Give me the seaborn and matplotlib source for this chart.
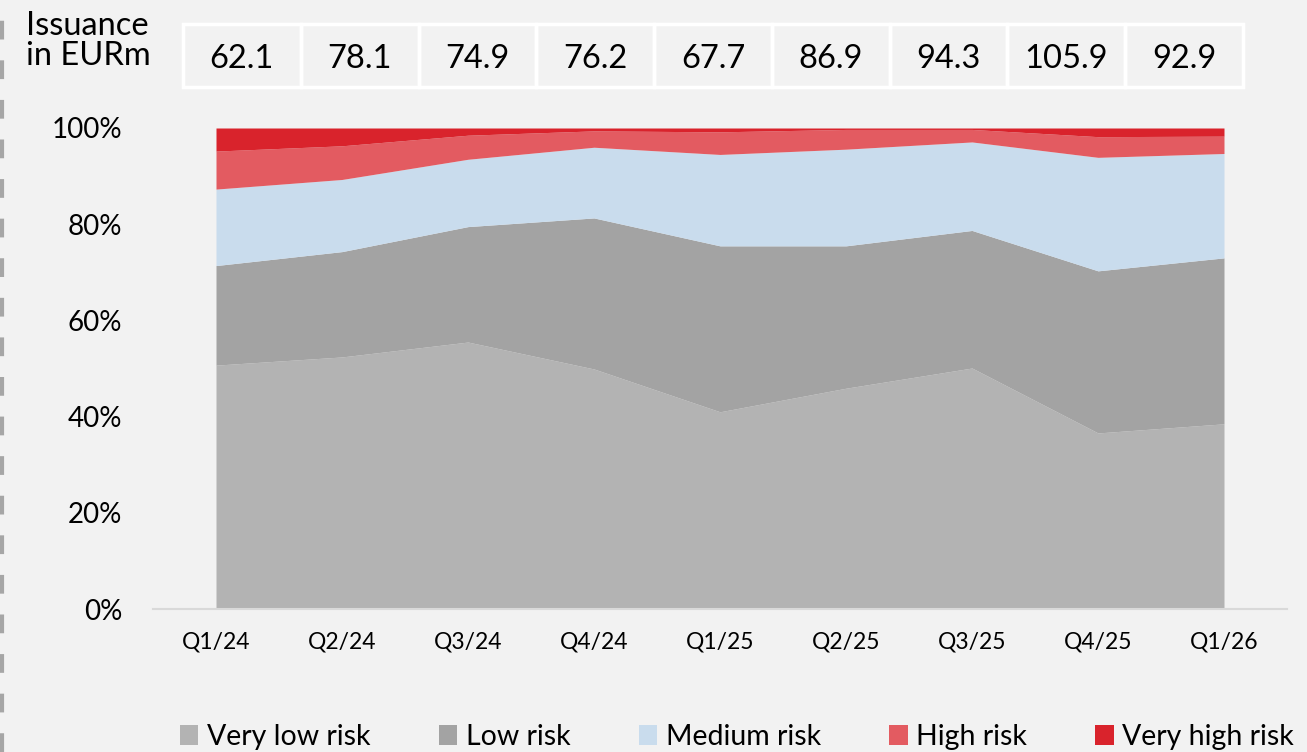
import seaborn as sns
import matplotlib.pyplot as plt
from matplotlib.patches import Rectangle
from matplotlib.lines import Line2D
from matplotlib.ticker import PercentFormatter

quarters = ['Q1/24', 'Q2/24', 'Q3/24', 'Q4/24', 'Q1/25', 'Q2/25', 'Q3/25', 'Q4/25', 'Q1/26']
issuance = ['62.1', '78.1', '74.9', '76.2', '67.7', '86.9', '94.3', '105.9', '92.9']

# shares in %
very_low = [50.7, 52.4, 55.5, 49.9, 41.0, 45.9, 50.1, 36.6, 38.5]
low = [20.7, 21.9, 24.0, 31.4, 34.5, 29.6, 28.6, 33.7, 34.5]
medium = [15.9, 15.0, 14.0, 14.7, 19.0, 20.1, 18.4, 23.6, 21.7]
high = [7.9, 7.0, 5.0, 3.4, 4.7, 4.1, 2.6, 4.3, 3.6]
very_high = [4.8, 3.7, 1.5, 0.6, 0.8, 0.3, 0.3, 1.8, 1.7]

series_names = ['Very low risk', 'Low risk', 'Medium risk', 'High risk', 'Very high risk']
colors = ['#b3b3b3', '#a3a3a3', '#c9dced', '#e35b61', '#d9232c']

bg = '#f2f2f2'
sns.set_theme(style='white')
plt.rcParams['font.family'] = ['Lato', 'DejaVu Sans']
plt.rcParams.update({
    'figure.facecolor': bg,
    'axes.facecolor': bg,
    'text.color': 'black',
    'xtick.color': 'black',
    'ytick.color': 'black',
})

W, H = 1307, 752
fig = plt.figure(figsize=(W / 100, H / 100), dpi=100)

# main stacked area chart
ax = fig.add_axes([153 / W, 1 - 609 / H, (1287 - 153) / W, (609 - 128) / H])
x = list(range(len(quarters)))
ax.stackplot(x, very_low, low, medium, high, very_high,
             colors=colors, labels=series_names, linewidth=0)
ax.set_xlim(-0.5, len(quarters) - 0.5)
ax.set_ylim(0, 100)
ax.set_xticks(x)
ax.set_xticklabels(quarters, fontsize=16.5)
ax.set_yticks([0, 20, 40, 60, 80, 100])
ax.yaxis.set_major_formatter(PercentFormatter(decimals=0))
ax.tick_params(axis='y', labelsize=20, length=0, pad=22)
ax.tick_params(axis='x', length=0, pad=16)
for s in ['top', 'right', 'left']:
    ax.spines[s].set_visible(False)
ax.spines['bottom'].set_color('#d9d9d9')
ax.spines['bottom'].set_linewidth(1.5)
ax.grid(False)

# issuance table on top
tab = fig.add_axes([183 / W, 1 - 87 / H, (1243 - 183) / W, (87 - 24) / H])
tab.set_xlim(0, len(issuance))
tab.set_ylim(0, 1)
tab.axis('off')
for i, v in enumerate(issuance):
    tab.add_patch(Rectangle((i, 0), 1, 1, fill=False, edgecolor='white',
                            linewidth=2.5, clip_on=False))
    tab.text(i + 0.5, 0.44, v, ha='center', va='center', fontsize=23.5)
fig.text(26 / W, 1 - 41 / H, 'Issuance\nin EURm', ha='left', va='center',
         fontsize=23.5, linespacing=1.0)

# legend
handles, labels = ax.get_legend_handles_labels()
fig.legend(handles, labels, loc='center', bbox_to_anchor=(737 / W, 1 - 737 / H),
           ncol=5, frameon=False, fontsize=20.5, handlelength=0.65, handleheight=0.65,
           handletextpad=0.3, columnspacing=2.4, borderaxespad=0)

# dashed line at left edge
fig.add_artist(Line2D([2 / W, 2 / W], [0, 1], transform=fig.transFigure,
                      color='#a6a6a6', linewidth=3, linestyle=(0, (4.5, 5))))

fig.savefig('out.png', dpi=100, facecolor=bg)
